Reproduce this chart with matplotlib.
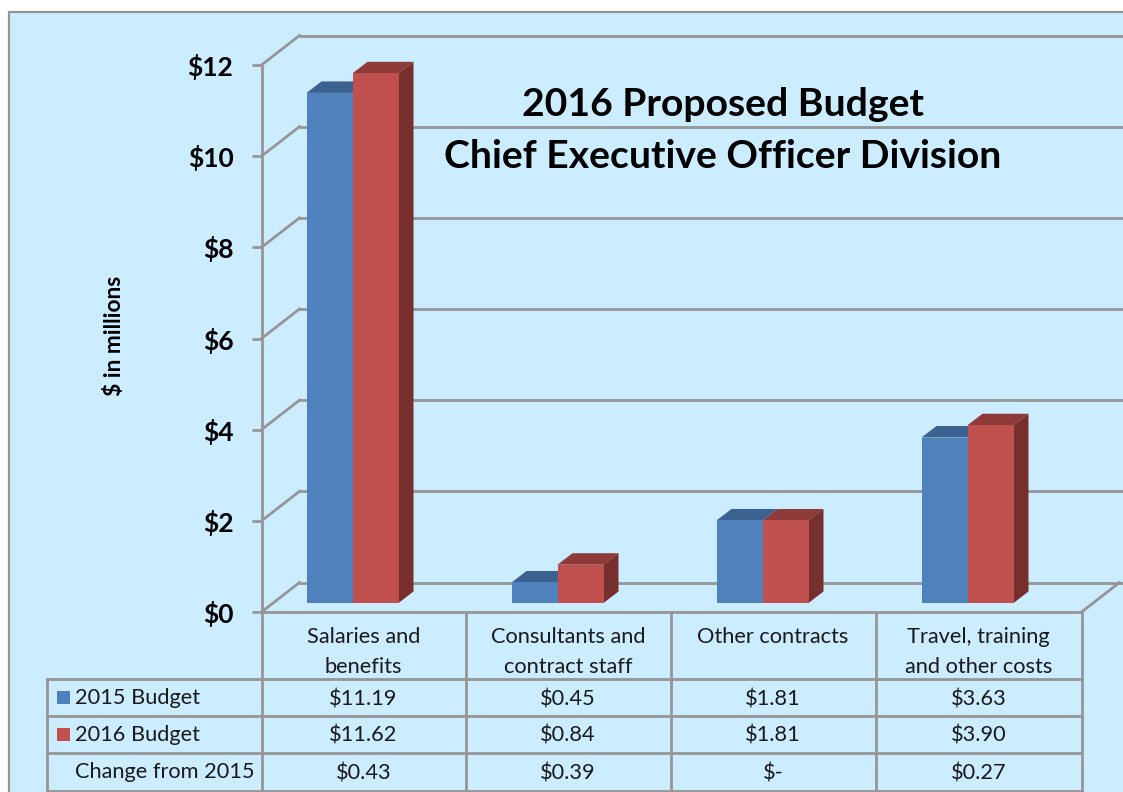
import matplotlib
matplotlib.use('Agg')
import matplotlib.pyplot as plt
from matplotlib.patches import Polygon, Rectangle

plt.rcParams['font.family'] = ['Lato', 'DejaVu Sans']

# Dados
categorias = ['Salaries and\nbenefits', 'Consultants and\ncontract staff', 'Other contracts', 'Travel, training\nand other costs']
budget_2015 = [11.19, 0.45, 1.81, 3.63]
budget_2016 = [11.62, 0.84, 1.81, 3.90]
mudanca = ['$0.43', '$0.39', '$-', '$0.27']
rotulos_y = ['$0', '$2', '$4', '$6', '$8', '$10', '$12']
valores_y = [0, 2, 4, 6, 8, 10, 12]
series = ['2015 Budget', '2016 Budget']

fundo = '#CCECFF'
cinza = '#969696'
azul, azul_topo = '#4F81BD', '#3C6291'
verm, verm_topo, verm_lado = '#C0504D', '#8E3A38', '#772F2D'

W, H = 1123, 792
fig = plt.figure(figsize=(W / 100, H / 100), dpi=100, facecolor='white')

# Eixo de fundo em pixels: painel, titulo e tabela
bg = fig.add_axes([0, 0, 1, 1], zorder=0)
bg.set_xlim(0, W)
bg.set_ylim(H, 0)
bg.axis('off')
bg.add_patch(Rectangle((9, 11.5), W, H, fc=fundo, ec=cinza, lw=1.6))

# Eixo do grafico: plano frontal do "3D"
x0, x1, y0, y1 = 261.5, 1081.5, 612, 65
ax = fig.add_axes([x0 / W, 1 - y0 / H, (x1 - x0) / W, (y0 - y1) / H], zorder=1)
ax.patch.set_alpha(0)
ax.set_xlim(0, 4)
ax.set_ylim(0, 12)

px_x = 4 / (x1 - x0)
px_y = 12 / (y0 - y1)
fundo_dx, fundo_dy = 38 * px_x, 29.5 * px_y   # deslocamento da parede de tras
prof_dx, prof_dy = 15 * px_x, 11.5 * px_y     # profundidade das barras
piso = 9 * px_y
larg = 46 * px_x
inicio = 45 * px_x

for s in ['top', 'right']:
    ax.spines[s].set_visible(False)
for s in ['left', 'bottom']:
    ax.spines[s].set_color(cinza)
    ax.spines[s].set_linewidth(2)
ax.set_xticks([])
ax.set_yticks(valores_y)
ax.set_yticklabels(rotulos_y, fontsize=19, fontweight='bold', color='black')
ax.tick_params(axis='y', length=7.2, width=2, color=cinza, pad=13)

# Parede de tras e linhas inclinadas
for v in valores_y:
    ax.plot([fundo_dx, 4.2], [v + fundo_dy, v + fundo_dy], color=cinza, lw=2, clip_on=False, zorder=1)
    ax.plot([0, fundo_dx], [v, v + fundo_dy], color=cinza, lw=2, clip_on=False, zorder=1)
ax.plot([4, 4 + fundo_dx], [0, fundo_dy], color=cinza, lw=2, clip_on=False, zorder=1)

# Barras
for i in range(4):
    xa = i + inicio
    xb = xa + larg
    xc = xb + larg
    ta = piso + budget_2015[i]
    tb = piso + budget_2016[i]
    ax.add_patch(Polygon([(xa, ta), (xa + prof_dx, ta + prof_dy), (xb + prof_dx, ta + prof_dy), (xb, ta)],
                         fc=azul_topo, ec='none', clip_on=False, zorder=3))
    ax.add_patch(Polygon([(xb, tb), (xb + prof_dx, tb + prof_dy), (xc + prof_dx, tb + prof_dy), (xc, tb)],
                         fc=verm_topo, ec='none', clip_on=False, zorder=3))
    ax.add_patch(Polygon([(xc, piso), (xc + prof_dx, piso + prof_dy), (xc + prof_dx, tb + prof_dy), (xc, tb)],
                         fc=verm_lado, ec='none', clip_on=False, zorder=3))
    ax.bar(xa, budget_2015[i], larg, bottom=piso, align='edge', color=azul, zorder=4)
    ax.bar(xb, budget_2016[i], larg, bottom=piso, align='edge', color=verm, zorder=5)

# Titulo e rotulo do eixo
bg.text(723, 104, '2016 Proposed Budget', ha='center', va='center', fontsize=28.2, fontweight='bold')
bg.text(723, 156, 'Chief Executive Officer Division', ha='center', va='center', fontsize=28.2, fontweight='bold')
bg.text(114.5, 336, '$ in millions', rotation=90, ha='center', va='center', fontsize=16.4, fontweight='bold')

# Tabela
col_x = [261.5, 465.5, 670.5, 875.5, 1081.5]
lin_y = [679, 716, 753, 790.5]
for x in col_x:
    bg.plot([x, x], [612, 790.5], color=cinza, lw=2)
bg.plot([46.5, 46.5], [679, 790.5], color=cinza, lw=2)
for y in lin_y:
    bg.plot([46.5, 1081.5], [y, y], color=cinza, lw=2)

cor_txt = '#1A1A1A'
fs = 15.7
for i in range(4):
    cx = (col_x[i] + col_x[i + 1]) / 2
    bg.text(cx, 652, categorias[i] if '\n' in categorias[i] else categorias[i] + '\n ', ha='center', va='center',
            fontsize=fs, color=cor_txt, linespacing=1.6)
    bg.text(cx, 699, f'${budget_2015[i]:.2f}', ha='center', va='center', fontsize=fs, color=cor_txt)
    bg.text(cx, 736, f'${budget_2016[i]:.2f}', ha='center', va='center', fontsize=fs, color=cor_txt)
    bg.text(cx, 773, mudanca[i], ha='center', va='center', fontsize=fs, color=cor_txt)

bg.add_patch(Rectangle((56.5, 690.5), 13, 13, fc=azul, ec='none'))
bg.add_patch(Rectangle((56.5, 727.5), 13, 13, fc=verm, ec='none'))
bg.text(75, 698, series[0], ha='left', va='center', fontsize=fs, color=cor_txt)
bg.text(75, 735, series[1], ha='left', va='center', fontsize=fs, color=cor_txt)
bg.text(75, 772, 'Change from 2015', ha='left', va='center', fontsize=fs, color=cor_txt)

fig.savefig('out.png', dpi=100)
